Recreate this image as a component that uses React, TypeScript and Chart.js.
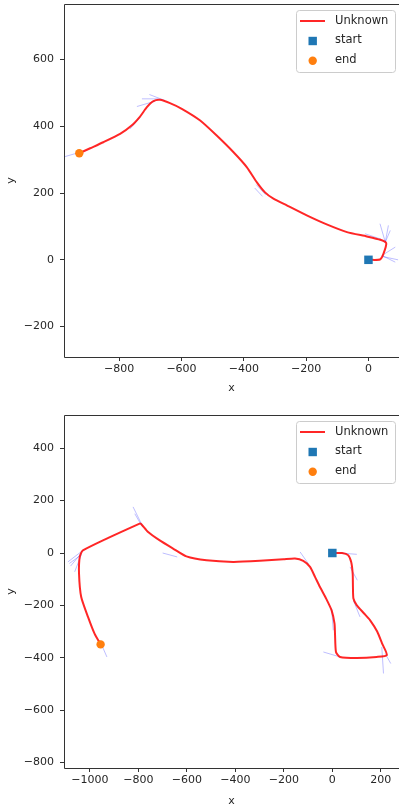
import { useEffect, useRef } from "react";
import { Chart, registerables } from "chart.js";
Chart.register(...registerables);

// ---------- data (top plot) ----------
const topPathX = [0, 37, 48, 57, 38, -5, -69, -134, -198, -262, -305, -332, -358, -390, -433, -487, -540, -599, -637, -669, -690, -711, -733, -760, -797, -851, -893, -928];
const topPathY = [0, 1, 18, 50, 60, 70, 83, 106, 133, 163, 183, 202, 232, 277, 322, 372, 417, 452, 469, 479, 475, 457, 429, 402, 377, 352, 334, 319];
const topStart = [0, 0];
const topEnd = [-928, 319];
const topHeadings = [
  [54, 53, 37, 108], [54, 53, 64, 103], [54, 53, 70, 88], [43, 13, 86, 38], [43, 13, 86, -7],
  [45, 10, 95, 0], [-11, 78, 40, 62], [-703, 495, -653, 477], [-743, 459, -685, 475], [-727, 482, -674, 482],
  [-765, 392, -733, 427], [-974, 309, -926, 322], [-360, 225, -330, 195], [-365, 215, -340, 190],
];
const topXTicks = [-800, -600, -400, -200, 0];
const topYTicks = [-200, 0, 200, 400, 600];
const topXRange = [-977, 98];
const topYRange = [-291, 766];

// ---------- data (bottom plot) ----------
const botPathX = [0, 40, 65, 78, 84, 85, 87, 101, 130, 156, 185, 205, 225, 183, 101, 32, 15, 11, 9, -3, -25, -51, -71, -92, -120, -154, -202, -299, -409, -519, -602, -657, -712, -760, -788, -795, -1029, -1042, -1045, -1036, -1008, -981, -956];
const botPathY = [0, 0, -8, -35, -80, -130, -174, -200, -230, -257, -300, -345, -390, -397, -401, -397, -378, -308, -270, -219, -175, -130, -92, -53, -30, -21, -24, -30, -34, -28, -13, 17, 48, 80, 110, 112, 10, -15, -79, -168, -244, -308, -349];
const botStart = [0, 0];
const botEnd = [-956, -349];
const botHeadings = [
  [-822, 176, -781, 99], [-815, 150, -790, 110], [-1091, -34, -1029, 10], [-1063, -72, -1035, -5],
  [-1080, -50, -1035, 0], [-1085, -40, -1040, -10], [-960, -333, -930, -397], [-133, 4, -99, -41], [31, 0, 101, -5],
  [73, -53, 103, -104], [87, -181, 114, -244], [-3, -212, 4, -295], [-37, -378, 32, -397],
  [204, -359, 211, -460], [218, -384, 241, -422], [-700, 0, -640, -15],
];
const botXTicks = [-1000, -800, -600, -400, -200, 0, 200];
const botYTicks = [-800, -600, -400, -200, 0, 200, 400];
const botXRange = [-1107, 275];
const botYRange = [-821, 527];

const legendLabels = ["Unknown", "start", "end"];

const RED = "rgba(255,0,0,0.85)";
const BLUE = "#1f77b4";
const ORANGE = "#ff7f0e";
const FONT = "DejaVu Sans";
const TXT = "#262626";

const fmt = (v: number) => (v < 0 ? "\u2212" + Math.abs(v) : String(v));

function makeConfig(
  px: number[], py: number[], start: number[], end: number[], heads: number[][],
  xt: number[], yt: number[], xr: number[], yr: number[],
  padTop: number, xHeight: number, xTitlePad: number
): any {
  const headData: any[] = [];
  heads.forEach((s) => {
    headData.push({ x: s[0], y: s[1] }, { x: s[2], y: s[3] }, { x: NaN, y: NaN });
  });
  const legendPlugin = {
    id: "mplLegend",
    afterDraw(chart: any) {
      const { ctx, chartArea } = chart;
      const right = chartArea.right - 4;
      const left = right - 99;
      const top = chartArea.top + 6;
      const h = 62;
      ctx.save();
      ctx.strokeStyle = "#333";
      ctx.lineWidth = 1;
      ctx.beginPath();
      ctx.moveTo(chartArea.right + 1, Math.round(chartArea.top) + 0.5);
      ctx.lineTo(Math.round(chartArea.left) + 0.5, Math.round(chartArea.top) + 0.5);
      ctx.lineTo(Math.round(chartArea.left) + 0.5, Math.round(chartArea.bottom) + 0.5);
      ctx.lineTo(chartArea.right + 1, Math.round(chartArea.bottom) + 0.5);
      ctx.stroke();
      ctx.beginPath();
      (ctx as any).roundRect(left + 0.5, top + 0.5, 99, h, 3);
      ctx.fillStyle = "rgba(255,255,255,0.8)";
      ctx.fill();
      ctx.strokeStyle = "#cccccc";
      ctx.stroke();
      ctx.strokeStyle = RED;
      ctx.lineWidth = 2;
      ctx.beginPath();
      ctx.moveTo(left + 4, top + 11);
      ctx.lineTo(left + 29, top + 11);
      ctx.stroke();
      ctx.fillStyle = BLUE;
      ctx.fillRect(left + 16.7 - 4.2, top + 31 - 4.2, 8.4, 8.4);
      ctx.fillStyle = ORANGE;
      ctx.beginPath();
      ctx.arc(left + 16.7, top + 50.7, 4.2, 0, Math.PI * 2);
      ctx.fill();
      ctx.fillStyle = TXT;
      ctx.font = `11.5px "${FONT}"`;
      ctx.textBaseline = "middle";
      ctx.textAlign = "left";
      ctx.fillText(legendLabels[0], left + 39, top + 11);
      ctx.fillText(legendLabels[1], left + 39, top + 30.5);
      ctx.fillText(legendLabels[2], left + 39, top + 50);
      ctx.restore();
    },
  };
  return {
    type: "scatter",
    data: {
      datasets: [
        { label: "start", data: [{ x: start[0], y: start[1] }], pointStyle: "rect", pointRadius: 6, backgroundColor: BLUE, borderColor: BLUE, borderWidth: 0, showLine: false },
        { label: "end", data: [{ x: end[0], y: end[1] }], pointStyle: "circle", pointRadius: 4.2, backgroundColor: ORANGE, borderColor: ORANGE, borderWidth: 0, showLine: false },
        { label: legendLabels[0], data: px.map((x, i) => ({ x, y: py[i] })), showLine: true, borderColor: RED, borderWidth: 2, pointRadius: 0, tension: 0.2, borderJoinStyle: "round", borderCapStyle: "round" },
        { label: "heading", data: headData, showLine: true, spanGaps: false, borderColor: "rgba(40,40,255,0.3)", borderWidth: 1, pointRadius: 0, tension: 0 },
      ],
    },
    options: {
      responsive: false,
      animation: false,
      events: [],
      layout: { autoPadding: false, padding: { top: padTop, right: 0, left: 0, bottom: 0 } },
      plugins: { legend: { display: false }, tooltip: { enabled: false } },
      scales: {
        x: {
          type: "linear",
          min: xr[0],
          max: xr[1],
          afterBuildTicks: (s: any) => { s.ticks = xt.map((v) => ({ value: v })); },
          afterFit: (s: any) => { s.height = xHeight; s.paddingLeft = 0; s.paddingRight = 0; },
          grid: { drawOnChartArea: false, drawTicks: true, tickLength: 4, color: "#333" },
          border: { display: false },
          ticks: { color: TXT, font: { family: FONT, size: 11 }, padding: 2, maxRotation: 0, autoSkip: false, callback: (v: any) => fmt(v) },
          title: { display: true, text: "x", color: TXT, font: { family: FONT, size: 11 }, padding: { top: 0, bottom: xTitlePad } },
        },
        y: {
          type: "linear",
          min: yr[0],
          max: yr[1],
          afterBuildTicks: (s: any) => { s.ticks = yt.map((v) => ({ value: v })); },
          afterFit: (s: any) => { s.width = 64; s.paddingTop = 0; s.paddingBottom = 0; },
          grid: { drawOnChartArea: false, drawTicks: true, tickLength: 4, color: "#333" },
          border: { display: false },
          ticks: { color: TXT, font: { family: FONT, size: 11 }, padding: 6, autoSkip: false, callback: (v: any) => fmt(v) },
          title: { display: true, text: "y", color: TXT, font: { family: FONT, size: 11 }, padding: { top: 5, bottom: 0 } },
        },
      },
    },
    plugins: [legendPlugin],
  };
}

export default function App() {
  const topRef = useRef<HTMLCanvasElement>(null);
  const botRef = useRef<HTMLCanvasElement>(null);
  useEffect(() => {
    document.body.style.margin = "0";
    const c1 = new Chart(topRef.current!, makeConfig(topPathX, topPathY, topStart, topEnd, topHeadings, topXTicks, topYTicks, topXRange, topYRange, 4, 43, 5));
    const c2 = new Chart(botRef.current!, makeConfig(botPathX, botPathY, botStart, botEnd, botHeadings, botXTicks, botYTicks, botXRange, botYRange, 15, 42, 2));
    return () => { c1.destroy(); c2.destroy(); };
  }, []);
  return (
    <div style={{ position: "relative", width: 399, height: 810, overflow: "hidden", background: "#fff" }}>
      <canvas ref={topRef} width={399} height={400} style={{ position: "absolute", left: 0, top: 0, width: 399, height: 400 }} />
      <canvas ref={botRef} width={399} height={410} style={{ position: "absolute", left: 0, top: 400, width: 399, height: 410 }} />
    </div>
  );
}
